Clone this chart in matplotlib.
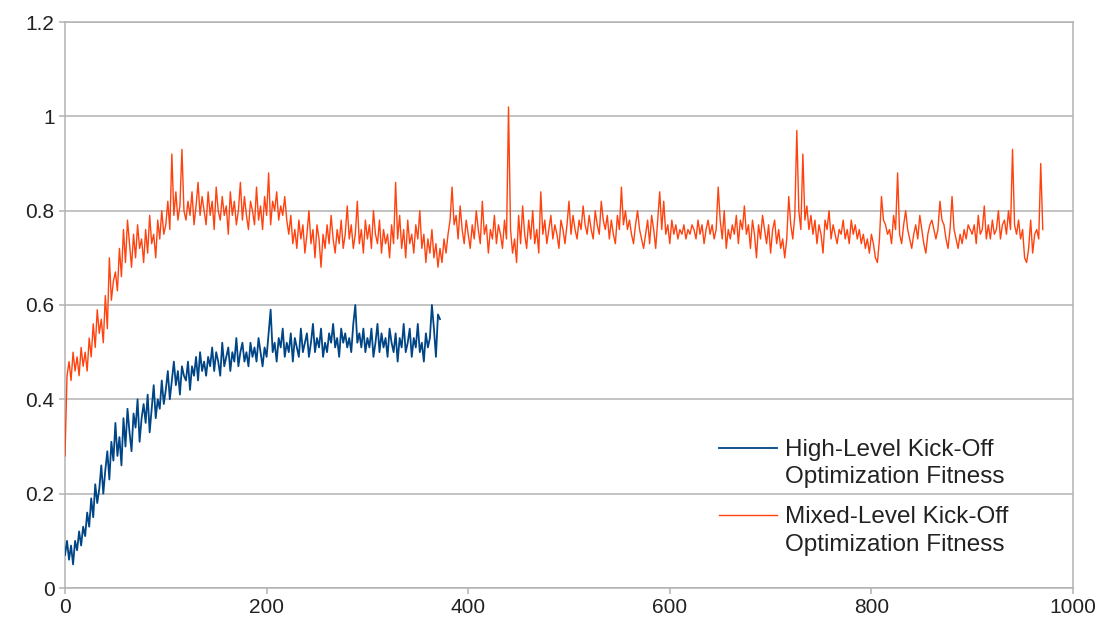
import matplotlib
matplotlib.use('Agg')
import matplotlib.pyplot as plt
from matplotlib.legend_handler import HandlerLine2D
from matplotlib.lines import Line2D
import numpy as np

# High-level kick-off fitness, sampled every 2 iterations (0..372)
high_level = [
    0.07, 0.10, 0.06, 0.09, 0.05, 0.10, 0.08, 0.12, 0.09, 0.13,
    0.11, 0.16, 0.13, 0.19, 0.15, 0.22, 0.18, 0.21, 0.26, 0.20,
    0.25, 0.29, 0.23, 0.31, 0.27, 0.35, 0.28, 0.32, 0.26, 0.36,
    0.30, 0.38, 0.33, 0.29, 0.37, 0.34, 0.40, 0.31, 0.36, 0.39,
    0.35, 0.41, 0.33, 0.38, 0.43, 0.36, 0.40, 0.38, 0.44, 0.39,
    0.42, 0.46, 0.40, 0.44, 0.48, 0.43, 0.46, 0.41, 0.47, 0.45,
    0.44, 0.48, 0.42, 0.47, 0.45, 0.49, 0.44, 0.50, 0.46, 0.48,
    0.45, 0.49, 0.47, 0.51, 0.46, 0.50, 0.48, 0.45, 0.52, 0.47,
    0.49, 0.51, 0.46, 0.50, 0.48, 0.53, 0.47, 0.50, 0.52, 0.48,
    0.50, 0.47, 0.52, 0.49, 0.51, 0.48, 0.53, 0.50, 0.47, 0.51,
    0.49, 0.54, 0.59, 0.50, 0.52, 0.48, 0.53, 0.51, 0.55, 0.49,
    0.52, 0.50, 0.54, 0.48, 0.53, 0.51, 0.49, 0.55, 0.50, 0.52,
    0.54, 0.49, 0.52, 0.56, 0.50, 0.53, 0.51, 0.55, 0.49, 0.52,
    0.50, 0.54, 0.52, 0.56, 0.51, 0.53, 0.49, 0.55, 0.52, 0.54,
    0.51, 0.53, 0.50, 0.56, 0.60, 0.52, 0.54, 0.51, 0.55, 0.50,
    0.53, 0.51, 0.55, 0.49, 0.52, 0.56, 0.50, 0.54, 0.51, 0.53,
    0.49, 0.55, 0.52, 0.50, 0.54, 0.48, 0.53, 0.51, 0.56, 0.50,
    0.52, 0.55, 0.49, 0.53, 0.51, 0.56, 0.50, 0.52, 0.48, 0.54,
    0.51, 0.53, 0.60, 0.55, 0.49, 0.58, 0.57,
]

# Mixed-level kick-off fitness, sampled every 2 iterations (0..970)
mixed_level = [
    0.28, 0.45, 0.48, 0.44, 0.50, 0.46, 0.49, 0.45, 0.51, 0.47,
    0.50, 0.46, 0.53, 0.49, 0.56, 0.51, 0.59, 0.54, 0.57, 0.52,
    0.62, 0.55, 0.70, 0.61, 0.65, 0.67, 0.63, 0.72, 0.66, 0.76,
    0.69, 0.78, 0.73, 0.68, 0.75, 0.70, 0.77, 0.72, 0.74, 0.69,
    0.76, 0.71, 0.79, 0.73, 0.75, 0.70, 0.78, 0.74, 0.80, 0.75,
    0.77, 0.82, 0.76, 0.92, 0.79, 0.84, 0.78, 0.81, 0.93, 0.80,
    0.78, 0.82, 0.79, 0.84, 0.77, 0.81, 0.86, 0.79, 0.83, 0.80,
    0.77, 0.84, 0.79, 0.82, 0.76, 0.85, 0.80, 0.78, 0.83, 0.79,
    0.81, 0.75, 0.84, 0.79, 0.82, 0.77, 0.80, 0.86, 0.78, 0.83,
    0.79, 0.76, 0.82, 0.80, 0.77, 0.85, 0.78, 0.81, 0.76, 0.83,
    0.79, 0.88, 0.77, 0.82, 0.80, 0.84, 0.78, 0.81, 0.79, 0.83,
    0.78, 0.75, 0.79, 0.73, 0.76, 0.72, 0.78, 0.74, 0.77, 0.71,
    0.75, 0.80, 0.73, 0.76, 0.70, 0.77, 0.74, 0.68, 0.75, 0.72,
    0.77, 0.73, 0.79, 0.74, 0.71, 0.76, 0.73, 0.78, 0.72, 0.75,
    0.81, 0.74, 0.77, 0.72, 0.75, 0.82, 0.73, 0.76, 0.71, 0.78,
    0.74, 0.77, 0.72, 0.80, 0.75, 0.73, 0.78, 0.71, 0.76, 0.73,
    0.75, 0.70, 0.77, 0.73, 0.86, 0.74, 0.79, 0.72, 0.76, 0.70,
    0.78, 0.73, 0.75, 0.71, 0.77, 0.74, 0.80, 0.72, 0.75, 0.69,
    0.74, 0.71, 0.76, 0.70, 0.73, 0.68, 0.72, 0.69, 0.74, 0.71,
    0.75, 0.78, 0.85, 0.77, 0.79, 0.74, 0.81, 0.76, 0.73, 0.78,
    0.75, 0.72, 0.77, 0.74, 0.80, 0.76, 0.73, 0.82, 0.75, 0.77,
    0.71, 0.76, 0.74, 0.79, 0.73, 0.77, 0.75, 0.72, 0.78, 0.74,
    1.02, 0.76, 0.71, 0.74, 0.69, 0.79, 0.73, 0.81, 0.75, 0.72,
    0.78, 0.74, 0.80, 0.73, 0.76, 0.71, 0.84, 0.75, 0.78, 0.73,
    0.76, 0.79, 0.74, 0.77, 0.75, 0.72, 0.78, 0.76, 0.73, 0.77,
    0.82, 0.75, 0.79, 0.76, 0.74, 0.78, 0.76, 0.81, 0.77, 0.75,
    0.79, 0.76, 0.74, 0.80, 0.77, 0.75, 0.82, 0.78, 0.76, 0.79,
    0.74, 0.78, 0.75, 0.73, 0.79, 0.76, 0.85, 0.77, 0.80, 0.76,
    0.78, 0.75, 0.73, 0.77, 0.80, 0.76, 0.74, 0.72, 0.75, 0.78,
    0.73, 0.79, 0.76, 0.72, 0.78, 0.84, 0.76, 0.82, 0.75, 0.77,
    0.73, 0.78, 0.75, 0.77, 0.74, 0.76, 0.75, 0.77, 0.74, 0.76,
    0.75, 0.77, 0.76, 0.74, 0.78, 0.75, 0.77, 0.73, 0.76, 0.78,
    0.75, 0.77, 0.74, 0.76, 0.85, 0.78, 0.74, 0.80, 0.72, 0.76,
    0.74, 0.77, 0.75, 0.79, 0.73, 0.78, 0.76, 0.81, 0.75, 0.77,
    0.72, 0.78, 0.75, 0.70, 0.77, 0.74, 0.79, 0.76, 0.73, 0.77,
    0.71, 0.76, 0.78, 0.73, 0.76, 0.72, 0.74, 0.70, 0.74, 0.83,
    0.77, 0.74, 0.79, 0.97, 0.80, 0.76, 0.92, 0.78, 0.81, 0.76,
    0.79, 0.75, 0.78, 0.73, 0.77, 0.75, 0.71, 0.78, 0.76, 0.80,
    0.74, 0.77, 0.75, 0.73, 0.76, 0.75, 0.78, 0.74, 0.76, 0.73,
    0.78, 0.75, 0.77, 0.74, 0.76, 0.73, 0.75, 0.72, 0.74, 0.71,
    0.75, 0.73, 0.70, 0.69, 0.74, 0.83, 0.78, 0.77, 0.75, 0.76,
    0.73, 0.79, 0.76, 0.88, 0.75, 0.73, 0.77, 0.80, 0.76, 0.74,
    0.72, 0.75, 0.77, 0.74, 0.79, 0.76, 0.73, 0.71, 0.75, 0.77,
    0.78, 0.76, 0.74, 0.76, 0.82, 0.78, 0.77, 0.74, 0.72, 0.76,
    0.83, 0.76, 0.74, 0.72, 0.75, 0.73, 0.76, 0.74, 0.77, 0.76,
    0.75, 0.77, 0.73, 0.79, 0.75, 0.76, 0.81, 0.74, 0.77, 0.74,
    0.78, 0.75, 0.76, 0.80, 0.74, 0.77, 0.78, 0.75, 0.80, 0.76,
    0.93, 0.77, 0.75, 0.78, 0.74, 0.76, 0.70, 0.69, 0.72, 0.78,
    0.71, 0.75, 0.76, 0.74, 0.90, 0.76,
]

labels = ['High-Level Kick-Off\nOptimization Fitness',
          'Mixed-Level Kick-Off\nOptimization Fitness']
x_ticks = [0, 200, 400, 600, 800, 1000]
y_ticks = [0, 0.2, 0.4, 0.6, 0.8, 1, 1.2]

x_high = np.arange(len(high_level)) * 2
x_mixed = np.arange(len(mixed_level)) * 2


# legend line sits next to the first line of the label, not its middle
class FirstLineHandler(HandlerLine2D):
    def create_artists(self, legend, orig_handle, xdescent, ydescent,
                       width, height, fontsize, trans):
        return super().create_artists(legend, orig_handle, xdescent,
                                      ydescent - 23, width, height,
                                      fontsize, trans)


plt.rcParams['font.family'] = ['Liberation Sans', 'DejaVu Sans']

fig = plt.figure(figsize=(11.1, 6.35), dpi=100)
ax = fig.add_axes([65 / 1110, 47 / 635, 1008 / 1110, 566 / 635])

grid_col = '#b3b3b3'
for t in y_ticks:
    ax.axhline(t, color=grid_col, linewidth=1.1, zorder=1)

ax.plot(x_high, high_level, color='#004586', linewidth=1.3, label=labels[0], zorder=3)
ax.plot(x_mixed, mixed_level, color='#ff420e', linewidth=1.0, label=labels[1], zorder=3)

ax.set_xlim(0, 1000)
ax.set_ylim(0, 1.2)
ax.set_xticks(x_ticks)
ax.set_yticks(y_ticks)
ax.set_xticklabels([str(t) for t in x_ticks])
ax.set_yticklabels(['0', '0.2', '0.4', '0.6', '0.8', '1', '1.2'])
ax.tick_params(colors=grid_col, labelcolor='#222222', labelsize=15, length=4, width=1.1)

for s in ax.spines.values():
    s.set_color(grid_col)
    s.set_linewidth(1.1)

leg = ax.legend(loc='upper left', bbox_to_anchor=(707 / 1110, 1 - 427 / 635),
                bbox_transform=fig.transFigure, frameon=False, fontsize=17.5,
                handlelength=2.4, handletextpad=0.3, labelspacing=0.75,
                borderpad=0, labelcolor='#222222',
                handler_map={Line2D: FirstLineHandler()})
for t in leg.get_texts():
    t.set_linespacing(1.3)

fig.savefig('out.png', dpi=100)
